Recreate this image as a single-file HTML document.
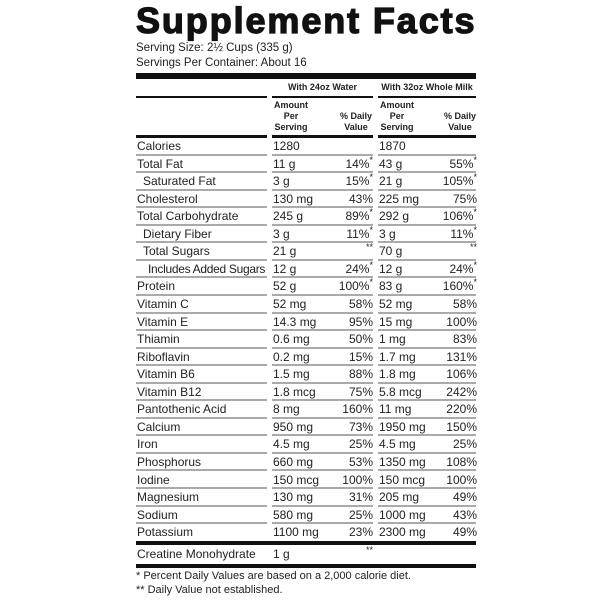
<!DOCTYPE html>
<html><head><meta charset="utf-8"><style>
body{margin:0;width:600px;height:600px;background:#fff;position:relative;overflow:hidden;font-family:"Liberation Sans",Arial,sans-serif;color:#222}
.a{position:absolute;white-space:nowrap}
.t{left:136px;top:3px;font-size:36px;line-height:36px;font-weight:900;letter-spacing:1.9px;color:#111;-webkit-text-stroke:1.3px #111}
.s{left:136px;font-size:11.5px}
.bar{position:absolute;background:#111}
.h{font-size:9px;font-weight:bold}
.r{position:absolute;left:0;width:600px;height:17.55px;font-size:12px;line-height:18.5px}
.r span{position:absolute;white-space:nowrap}
.l{left:137px}.a1{left:273px}.p1{right:227px;text-align:right}.a2{left:379px}.p2{right:123px;text-align:right}
.r i{position:absolute;bottom:-1px;height:2px;background:#aaa}
.g1{left:136px;width:131px}.g2{left:272px;width:101px}.g3{left:378px;width:98px}
sup{font-size:9px;line-height:0}
</style></head><body>
<div class="a t">Supplement Facts</div>
<div class="a s" style="top:42px">Serving Size: 2½ Cups (335 g)</div>
<div class="a s" style="top:57px">Servings Per Container: About 16</div>
<div class="bar" style="left:136px;top:73px;width:340px;height:6px"></div>
<div class="a h" style="left:272px;width:101px;text-align:center;top:82px">With 24oz Water</div>
<div class="a h" style="left:378px;width:98px;text-align:center;top:82px">With 32oz Whole Milk</div>
<div class="bar" style="left:136px;top:96px;width:131px;height:2px"></div>
<div class="bar" style="left:272px;top:96px;width:101px;height:2px"></div>
<div class="bar" style="left:378px;top:96px;width:98px;height:2px"></div>
<div class="a h" style="left:274px;top:100px;line-height:11px;text-align:center">Amount<br>Per<br>Serving</div>
<div class="a h" style="right:228px;top:111px;line-height:11px;text-align:center">% Daily<br>Value</div>
<div class="a h" style="left:380px;top:100px;line-height:11px;text-align:center">Amount<br>Per<br>Serving</div>
<div class="a h" style="right:124px;top:111px;line-height:11px;text-align:center">% Daily<br>Value</div>
<div class="bar" style="left:136px;top:135px;width:131px;height:3px"></div>
<div class="bar" style="left:272px;top:135px;width:101px;height:3px"></div>
<div class="bar" style="left:378px;top:135px;width:98px;height:3px"></div>

<div class="r" style="top:137px"><span class="l">Calories</span><span class="a1">1280</span><span class="a2">1870</span><i class="g1"></i><i class="g2"></i><i class="g3"></i></div>
<div class="r" style="top:154.5px"><span class="l">Total Fat</span><span class="a1">11 g</span><span class="p1">14%<sup>*</sup></span><span class="a2">43 g</span><span class="p2">55%<sup>*</sup></span><i class="g1"></i><i class="g2"></i><i class="g3"></i></div>
<div class="r" style="top:172.1px"><span class="l" style="left:143px">Saturated Fat</span><span class="a1">3 g</span><span class="p1">15%<sup>*</sup></span><span class="a2">21 g</span><span class="p2">105%<sup>*</sup></span><i class="g1"></i><i class="g2"></i><i class="g3"></i></div>
<div class="r" style="top:189.6px"><span class="l">Cholesterol</span><span class="a1">130 mg</span><span class="p1">43%</span><span class="a2">225 mg</span><span class="p2">75%</span><i class="g1"></i><i class="g2"></i><i class="g3"></i></div>
<div class="r" style="top:207.2px"><span class="l">Total Carbohydrate</span><span class="a1">245 g</span><span class="p1">89%<sup>*</sup></span><span class="a2">292 g</span><span class="p2">106%<sup>*</sup></span><i class="g1"></i><i class="g2"></i><i class="g3"></i></div>
<div class="r" style="top:224.7px"><span class="l" style="left:143px">Dietary Fiber</span><span class="a1">3 g</span><span class="p1">11%<sup>*</sup></span><span class="a2">3 g</span><span class="p2">11%<sup>*</sup></span><i class="g1"></i><i class="g2"></i><i class="g3"></i></div>
<div class="r" style="top:242.3px"><span class="l" style="left:143px">Total Sugars</span><span class="a1">21 g</span><span class="p1"><sup>**</sup></span><span class="a2">70 g</span><span class="p2"><sup>**</sup></span><i class="g1"></i><i class="g2"></i><i class="g3"></i></div>
<div class="r" style="top:259.8px"><span class="l" style="left:148px;letter-spacing:-0.3px">Includes Added Sugars</span><span class="a1">12 g</span><span class="p1">24%<sup>*</sup></span><span class="a2">12 g</span><span class="p2">24%<sup>*</sup></span><i class="g1"></i><i class="g2"></i><i class="g3"></i></div>
<div class="r" style="top:277.4px"><span class="l">Protein</span><span class="a1">52 g</span><span class="p1">100%<sup>*</sup></span><span class="a2">83 g</span><span class="p2">160%<sup>*</sup></span><i class="g1"></i><i class="g2"></i><i class="g3"></i></div>
<div class="r" style="top:295px"><span class="l">Vitamin C</span><span class="a1">52 mg</span><span class="p1">58%</span><span class="a2">52 mg</span><span class="p2">58%</span><i class="g1"></i><i class="g2"></i><i class="g3"></i></div>
<div class="r" style="top:312.5px"><span class="l">Vitamin E</span><span class="a1">14.3 mg</span><span class="p1">95%</span><span class="a2">15 mg</span><span class="p2">100%</span><i class="g1"></i><i class="g2"></i><i class="g3"></i></div>
<div class="r" style="top:330.1px"><span class="l">Thiamin</span><span class="a1">0.6 mg</span><span class="p1">50%</span><span class="a2">1 mg</span><span class="p2">83%</span><i class="g1"></i><i class="g2"></i><i class="g3"></i></div>
<div class="r" style="top:347.6px"><span class="l">Riboflavin</span><span class="a1">0.2 mg</span><span class="p1">15%</span><span class="a2">1.7 mg</span><span class="p2">131%</span><i class="g1"></i><i class="g2"></i><i class="g3"></i></div>
<div class="r" style="top:365.2px"><span class="l">Vitamin B6</span><span class="a1">1.5 mg</span><span class="p1">88%</span><span class="a2">1.8 mg</span><span class="p2">106%</span><i class="g1"></i><i class="g2"></i><i class="g3"></i></div>
<div class="r" style="top:382.7px"><span class="l">Vitamin B12</span><span class="a1">1.8 mcg</span><span class="p1">75%</span><span class="a2">5.8 mcg</span><span class="p2">242%</span><i class="g1"></i><i class="g2"></i><i class="g3"></i></div>
<div class="r" style="top:400.3px"><span class="l">Pantothenic Acid</span><span class="a1">8 mg</span><span class="p1">160%</span><span class="a2">11 mg</span><span class="p2">220%</span><i class="g1"></i><i class="g2"></i><i class="g3"></i></div>
<div class="r" style="top:417.8px"><span class="l">Calcium</span><span class="a1">950 mg</span><span class="p1">73%</span><span class="a2">1950 mg</span><span class="p2">150%</span><i class="g1"></i><i class="g2"></i><i class="g3"></i></div>
<div class="r" style="top:435.4px"><span class="l">Iron</span><span class="a1">4.5 mg</span><span class="p1">25%</span><span class="a2">4.5 mg</span><span class="p2">25%</span><i class="g1"></i><i class="g2"></i><i class="g3"></i></div>
<div class="r" style="top:452.9px"><span class="l">Phosphorus</span><span class="a1">660 mg</span><span class="p1">53%</span><span class="a2">1350 mg</span><span class="p2">108%</span><i class="g1"></i><i class="g2"></i><i class="g3"></i></div>
<div class="r" style="top:470.5px"><span class="l">Iodine</span><span class="a1">150 mcg</span><span class="p1">100%</span><span class="a2">150 mcg</span><span class="p2">100%</span><i class="g1"></i><i class="g2"></i><i class="g3"></i></div>
<div class="r" style="top:488px"><span class="l">Magnesium</span><span class="a1">130 mg</span><span class="p1">31%</span><span class="a2">205 mg</span><span class="p2">49%</span><i class="g1"></i><i class="g2"></i><i class="g3"></i></div>
<div class="r" style="top:505.6px"><span class="l">Sodium</span><span class="a1">580 mg</span><span class="p1">25%</span><span class="a2">1000 mg</span><span class="p2">43%</span><i class="g1"></i><i class="g2"></i><i class="g3"></i></div>
<div class="r" style="top:523.1px"><span class="l">Potassium</span><span class="a1">1100 mg</span><span class="p1">23%</span><span class="a2">2300 mg</span><span class="p2">49%</span></div>
<div class="bar" style="left:136px;top:541px;width:340px;height:4px"></div>
<div class="r" style="top:545px"><span class="l">Creatine Monohydrate</span><span class="a1">1 g</span><span class="p1"><sup>**</sup></span></div>
<div class="bar" style="left:136px;top:564px;width:340px;height:4px"></div>
<div class="a" style="left:136px;top:570px;font-size:11px">* Percent Daily Values are based on a 2,000 calorie diet.</div>
<div class="a" style="left:136px;top:584px;font-size:11px">** Daily Value not established.</div>
</body></html>
